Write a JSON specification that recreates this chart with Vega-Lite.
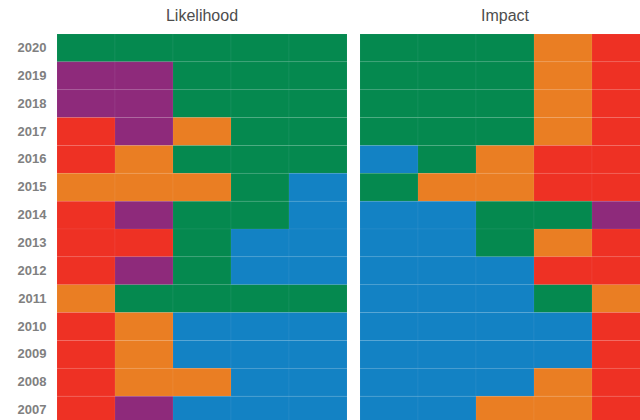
{
  "$schema": "https://vega.github.io/schema/vega-lite/v6.json",
  "padding": {"left": 17, "top": 8, "right": 0, "bottom": 0},
  "background": "white",
  "config": {"view": {"stroke": null}, "font": "Liberation Sans"},
  "data": {"values": [
    {"panel":"Likelihood","year":2020,"rank":1,"cat":"Environmental"},{"panel":"Likelihood","year":2020,"rank":2,"cat":"Environmental"},{"panel":"Likelihood","year":2020,"rank":3,"cat":"Environmental"},{"panel":"Likelihood","year":2020,"rank":4,"cat":"Environmental"},{"panel":"Likelihood","year":2020,"rank":5,"cat":"Environmental"},
    {"panel":"Likelihood","year":2019,"rank":1,"cat":"Technological"},{"panel":"Likelihood","year":2019,"rank":2,"cat":"Technological"},{"panel":"Likelihood","year":2019,"rank":3,"cat":"Environmental"},{"panel":"Likelihood","year":2019,"rank":4,"cat":"Environmental"},{"panel":"Likelihood","year":2019,"rank":5,"cat":"Environmental"},
    {"panel":"Likelihood","year":2018,"rank":1,"cat":"Technological"},{"panel":"Likelihood","year":2018,"rank":2,"cat":"Technological"},{"panel":"Likelihood","year":2018,"rank":3,"cat":"Environmental"},{"panel":"Likelihood","year":2018,"rank":4,"cat":"Environmental"},{"panel":"Likelihood","year":2018,"rank":5,"cat":"Environmental"},
    {"panel":"Likelihood","year":2017,"rank":1,"cat":"Societal"},{"panel":"Likelihood","year":2017,"rank":2,"cat":"Technological"},{"panel":"Likelihood","year":2017,"rank":3,"cat":"Geopolitical"},{"panel":"Likelihood","year":2017,"rank":4,"cat":"Environmental"},{"panel":"Likelihood","year":2017,"rank":5,"cat":"Environmental"},
    {"panel":"Likelihood","year":2016,"rank":1,"cat":"Societal"},{"panel":"Likelihood","year":2016,"rank":2,"cat":"Geopolitical"},{"panel":"Likelihood","year":2016,"rank":3,"cat":"Environmental"},{"panel":"Likelihood","year":2016,"rank":4,"cat":"Environmental"},{"panel":"Likelihood","year":2016,"rank":5,"cat":"Environmental"},
    {"panel":"Likelihood","year":2015,"rank":1,"cat":"Geopolitical"},{"panel":"Likelihood","year":2015,"rank":2,"cat":"Geopolitical"},{"panel":"Likelihood","year":2015,"rank":3,"cat":"Geopolitical"},{"panel":"Likelihood","year":2015,"rank":4,"cat":"Environmental"},{"panel":"Likelihood","year":2015,"rank":5,"cat":"Economic"},
    {"panel":"Likelihood","year":2014,"rank":1,"cat":"Societal"},{"panel":"Likelihood","year":2014,"rank":2,"cat":"Technological"},{"panel":"Likelihood","year":2014,"rank":3,"cat":"Environmental"},{"panel":"Likelihood","year":2014,"rank":4,"cat":"Environmental"},{"panel":"Likelihood","year":2014,"rank":5,"cat":"Economic"},
    {"panel":"Likelihood","year":2013,"rank":1,"cat":"Societal"},{"panel":"Likelihood","year":2013,"rank":2,"cat":"Societal"},{"panel":"Likelihood","year":2013,"rank":3,"cat":"Environmental"},{"panel":"Likelihood","year":2013,"rank":4,"cat":"Economic"},{"panel":"Likelihood","year":2013,"rank":5,"cat":"Economic"},
    {"panel":"Likelihood","year":2012,"rank":1,"cat":"Societal"},{"panel":"Likelihood","year":2012,"rank":2,"cat":"Technological"},{"panel":"Likelihood","year":2012,"rank":3,"cat":"Environmental"},{"panel":"Likelihood","year":2012,"rank":4,"cat":"Economic"},{"panel":"Likelihood","year":2012,"rank":5,"cat":"Economic"},
    {"panel":"Likelihood","year":2011,"rank":1,"cat":"Geopolitical"},{"panel":"Likelihood","year":2011,"rank":2,"cat":"Environmental"},{"panel":"Likelihood","year":2011,"rank":3,"cat":"Environmental"},{"panel":"Likelihood","year":2011,"rank":4,"cat":"Environmental"},{"panel":"Likelihood","year":2011,"rank":5,"cat":"Environmental"},
    {"panel":"Likelihood","year":2010,"rank":1,"cat":"Societal"},{"panel":"Likelihood","year":2010,"rank":2,"cat":"Geopolitical"},{"panel":"Likelihood","year":2010,"rank":3,"cat":"Economic"},{"panel":"Likelihood","year":2010,"rank":4,"cat":"Economic"},{"panel":"Likelihood","year":2010,"rank":5,"cat":"Economic"},
    {"panel":"Likelihood","year":2009,"rank":1,"cat":"Societal"},{"panel":"Likelihood","year":2009,"rank":2,"cat":"Geopolitical"},{"panel":"Likelihood","year":2009,"rank":3,"cat":"Economic"},{"panel":"Likelihood","year":2009,"rank":4,"cat":"Economic"},{"panel":"Likelihood","year":2009,"rank":5,"cat":"Economic"},
    {"panel":"Likelihood","year":2008,"rank":1,"cat":"Societal"},{"panel":"Likelihood","year":2008,"rank":2,"cat":"Geopolitical"},{"panel":"Likelihood","year":2008,"rank":3,"cat":"Geopolitical"},{"panel":"Likelihood","year":2008,"rank":4,"cat":"Economic"},{"panel":"Likelihood","year":2008,"rank":5,"cat":"Economic"},
    {"panel":"Likelihood","year":2007,"rank":1,"cat":"Societal"},{"panel":"Likelihood","year":2007,"rank":2,"cat":"Technological"},{"panel":"Likelihood","year":2007,"rank":3,"cat":"Economic"},{"panel":"Likelihood","year":2007,"rank":4,"cat":"Economic"},{"panel":"Likelihood","year":2007,"rank":5,"cat":"Economic"},
    {"panel":"Impact","year":2020,"rank":1,"cat":"Environmental"},{"panel":"Impact","year":2020,"rank":2,"cat":"Environmental"},{"panel":"Impact","year":2020,"rank":3,"cat":"Environmental"},{"panel":"Impact","year":2020,"rank":4,"cat":"Geopolitical"},{"panel":"Impact","year":2020,"rank":5,"cat":"Societal"},
    {"panel":"Impact","year":2019,"rank":1,"cat":"Environmental"},{"panel":"Impact","year":2019,"rank":2,"cat":"Environmental"},{"panel":"Impact","year":2019,"rank":3,"cat":"Environmental"},{"panel":"Impact","year":2019,"rank":4,"cat":"Geopolitical"},{"panel":"Impact","year":2019,"rank":5,"cat":"Societal"},
    {"panel":"Impact","year":2018,"rank":1,"cat":"Environmental"},{"panel":"Impact","year":2018,"rank":2,"cat":"Environmental"},{"panel":"Impact","year":2018,"rank":3,"cat":"Environmental"},{"panel":"Impact","year":2018,"rank":4,"cat":"Geopolitical"},{"panel":"Impact","year":2018,"rank":5,"cat":"Societal"},
    {"panel":"Impact","year":2017,"rank":1,"cat":"Environmental"},{"panel":"Impact","year":2017,"rank":2,"cat":"Environmental"},{"panel":"Impact","year":2017,"rank":3,"cat":"Environmental"},{"panel":"Impact","year":2017,"rank":4,"cat":"Geopolitical"},{"panel":"Impact","year":2017,"rank":5,"cat":"Societal"},
    {"panel":"Impact","year":2016,"rank":1,"cat":"Economic"},{"panel":"Impact","year":2016,"rank":2,"cat":"Environmental"},{"panel":"Impact","year":2016,"rank":3,"cat":"Geopolitical"},{"panel":"Impact","year":2016,"rank":4,"cat":"Societal"},{"panel":"Impact","year":2016,"rank":5,"cat":"Societal"},
    {"panel":"Impact","year":2015,"rank":1,"cat":"Environmental"},{"panel":"Impact","year":2015,"rank":2,"cat":"Geopolitical"},{"panel":"Impact","year":2015,"rank":3,"cat":"Geopolitical"},{"panel":"Impact","year":2015,"rank":4,"cat":"Societal"},{"panel":"Impact","year":2015,"rank":5,"cat":"Societal"},
    {"panel":"Impact","year":2014,"rank":1,"cat":"Economic"},{"panel":"Impact","year":2014,"rank":2,"cat":"Economic"},{"panel":"Impact","year":2014,"rank":3,"cat":"Environmental"},{"panel":"Impact","year":2014,"rank":4,"cat":"Environmental"},{"panel":"Impact","year":2014,"rank":5,"cat":"Technological"},
    {"panel":"Impact","year":2013,"rank":1,"cat":"Economic"},{"panel":"Impact","year":2013,"rank":2,"cat":"Economic"},{"panel":"Impact","year":2013,"rank":3,"cat":"Environmental"},{"panel":"Impact","year":2013,"rank":4,"cat":"Geopolitical"},{"panel":"Impact","year":2013,"rank":5,"cat":"Societal"},
    {"panel":"Impact","year":2012,"rank":1,"cat":"Economic"},{"panel":"Impact","year":2012,"rank":2,"cat":"Economic"},{"panel":"Impact","year":2012,"rank":3,"cat":"Economic"},{"panel":"Impact","year":2012,"rank":4,"cat":"Societal"},{"panel":"Impact","year":2012,"rank":5,"cat":"Societal"},
    {"panel":"Impact","year":2011,"rank":1,"cat":"Economic"},{"panel":"Impact","year":2011,"rank":2,"cat":"Economic"},{"panel":"Impact","year":2011,"rank":3,"cat":"Economic"},{"panel":"Impact","year":2011,"rank":4,"cat":"Environmental"},{"panel":"Impact","year":2011,"rank":5,"cat":"Geopolitical"},
    {"panel":"Impact","year":2010,"rank":1,"cat":"Economic"},{"panel":"Impact","year":2010,"rank":2,"cat":"Economic"},{"panel":"Impact","year":2010,"rank":3,"cat":"Economic"},{"panel":"Impact","year":2010,"rank":4,"cat":"Economic"},{"panel":"Impact","year":2010,"rank":5,"cat":"Societal"},
    {"panel":"Impact","year":2009,"rank":1,"cat":"Economic"},{"panel":"Impact","year":2009,"rank":2,"cat":"Economic"},{"panel":"Impact","year":2009,"rank":3,"cat":"Economic"},{"panel":"Impact","year":2009,"rank":4,"cat":"Economic"},{"panel":"Impact","year":2009,"rank":5,"cat":"Societal"},
    {"panel":"Impact","year":2008,"rank":1,"cat":"Economic"},{"panel":"Impact","year":2008,"rank":2,"cat":"Economic"},{"panel":"Impact","year":2008,"rank":3,"cat":"Economic"},{"panel":"Impact","year":2008,"rank":4,"cat":"Geopolitical"},{"panel":"Impact","year":2008,"rank":5,"cat":"Societal"},
    {"panel":"Impact","year":2007,"rank":1,"cat":"Economic"},{"panel":"Impact","year":2007,"rank":2,"cat":"Economic"},{"panel":"Impact","year":2007,"rank":3,"cat":"Geopolitical"},{"panel":"Impact","year":2007,"rank":4,"cat":"Geopolitical"},{"panel":"Impact","year":2007,"rank":5,"cat":"Societal"}
  ]},
  "facet": {
    "column": {
      "field": "panel",
      "type": "nominal",
      "sort": ["Likelihood", "Impact"],
      "header": {"title": null, "labelFontSize": 16, "labelColor": "#4d4d4d", "labelPadding": 9, "labelFont": "Liberation Sans"}
    }
  },
  "spacing": 11,
  "spec": {
    "width": 290,
    "height": 390,
    "mark": {"type": "rect", "stroke": "#ffffff", "strokeOpacity": 0.05, "strokeWidth": 1},
    "encoding": {
      "x": {"field": "rank", "type": "ordinal", "axis": null, "scale": {"paddingInner": 0, "paddingOuter": 0}},
      "y": {"field": "year", "type": "ordinal", "sort": "descending", "scale": {"paddingInner": 0, "paddingOuter": 0},
        "axis": {"title": null, "domain": false, "ticks": false, "labelPadding": 10, "labelFontSize": 13, "labelFontWeight": "bold", "labelColor": "#808080", "labelFont": "Liberation Sans"}},
      "color": {"field": "cat", "type": "nominal", "legend": null,
        "scale": {"domain": ["Economic", "Environmental", "Geopolitical", "Societal", "Technological"],
                  "range": ["#1382C4", "#05894F", "#EA7E23", "#EE3124", "#8E2A7B"]}}
    }
  }
}
